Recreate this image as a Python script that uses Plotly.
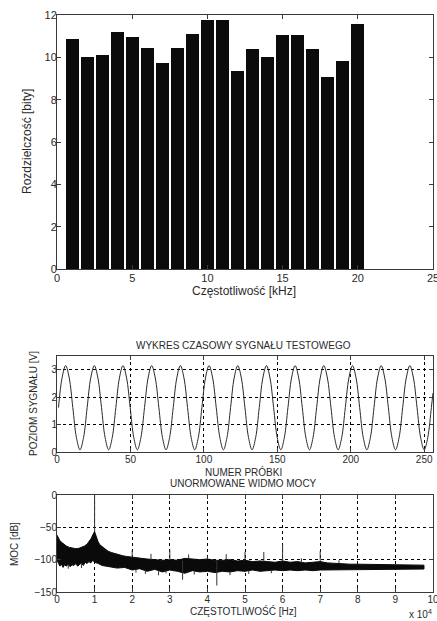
import plotly.graph_objects as go

# ---------------- Top chart: resolution per frequency band ----------------
freq_khz = [1, 2, 3, 4, 5, 6, 7, 8, 9, 10, 11, 12, 13, 14, 15, 16, 17, 18, 19, 20]
resolution_bits = [10.87, 10.03, 10.10, 11.22, 10.95, 10.45, 9.75, 10.45, 11.08, 11.78,
                   11.78, 9.36, 10.38, 10.03, 11.05, 11.05, 10.38, 9.05, 9.82, 11.57]
top_xticks = [0, 5, 10, 15, 20, 25]
top_yticks = [0, 2, 4, 6, 8, 10, 12]

# ---------------- Middle chart: test signal (sample index vs volts) ----------------
sample_idx = [1.00, 3.44, 5.88, 8.32, 10.77, 13.21, 15.65, 18.09,
              20.53, 22.97, 25.41, 27.85, 30.30, 32.74, 35.18, 37.62,
              40.06, 42.50, 44.94, 47.38, 49.83, 52.27, 54.71, 57.15,
              59.59, 62.03, 64.47, 66.91, 69.36, 71.80, 74.24, 76.68,
              79.12, 81.56, 84.00, 86.44, 88.89, 91.33, 93.77, 96.21,
              98.65, 101.09, 103.53, 105.97, 108.42, 110.86, 113.30, 115.74,
              118.18, 120.62, 123.06, 125.50, 127.95, 130.39, 132.83, 135.27,
              137.71, 140.15, 142.59, 145.03, 147.48, 149.92, 152.36, 154.80,
              157.24, 159.68, 162.12, 164.56, 167.01, 169.45, 171.89, 174.33,
              176.77, 179.21, 181.65, 184.09, 186.54, 188.98, 191.42, 193.86,
              196.30, 198.74, 201.18, 203.62, 206.07, 208.51, 210.95, 213.39,
              215.83, 218.27, 220.71, 223.15, 225.60, 228.04, 230.48, 232.92,
              235.36, 237.80, 240.24, 242.68, 245.13, 247.57, 250.01, 252.45,
              254.89, 256.00]
signal_v = [1.62, 2.70, 3.15, 2.70, 1.62, 0.53, 0.08, 0.53,
            1.62, 2.70, 3.15, 2.70, 1.62, 0.53, 0.08, 0.53,
            1.62, 2.70, 3.15, 2.70, 1.62, 0.53, 0.08, 0.53,
            1.62, 2.70, 3.15, 2.70, 1.62, 0.53, 0.08, 0.53,
            1.62, 2.70, 3.15, 2.70, 1.62, 0.53, 0.08, 0.53,
            1.62, 2.70, 3.15, 2.70, 1.62, 0.53, 0.08, 0.53,
            1.62, 2.70, 3.15, 2.70, 1.62, 0.53, 0.08, 0.53,
            1.62, 2.70, 3.15, 2.70, 1.62, 0.53, 0.08, 0.53,
            1.62, 2.70, 3.15, 2.70, 1.62, 0.53, 0.08, 0.53,
            1.62, 2.70, 3.15, 2.70, 1.62, 0.53, 0.08, 0.53,
            1.62, 2.70, 3.15, 2.70, 1.62, 0.53, 0.08, 0.53,
            1.62, 2.70, 3.15, 2.70, 1.62, 0.53, 0.08, 0.53,
            1.62, 2.70, 3.15, 2.70, 1.62, 0.53, 0.08, 0.53,
            1.62, 2.15]
mid_xticks = [0, 50, 100, 150, 200, 250]
mid_yticks = [0, 1, 2, 3]

# ---------------- Bottom chart: power spectrum (Hz vs dB) ----------------
spec_upper_hz = [0, 300, 700, 1200, 1800, 2500, 3300, 4200, 5000, 5800, 6600, 7300,
                 8000, 8600, 9100, 9500, 9800, 10000, 10200, 10500, 10900, 11400,
                 12000, 12800, 13600, 14500, 15500, 16500, 17500, 18500, 19500,
                 21000, 22500, 24000, 26000, 28000, 30000, 32000, 34000, 36000,
                 38000, 40000, 42000, 44000, 46000, 48000, 50000, 52000, 54000,
                 56000, 58000, 60000, 62000, 64000, 66000, 68000, 70000, 72000,
                 74000, 76000, 78000, 80000, 84000, 88000, 92000, 97600]
spec_upper_db = [-62, -66, -70, -73, -76, -79, -81, -82.5, -83, -82.5, -81, -79,
                 -76, -72, -67, -62, -58, -56.5, -60, -66, -72, -77,
                 -80, -84, -87, -89, -91, -92, -94, -95, -96,
                 -97, -98, -99, -100, -101, -100, -101, -98, -99,
                 -100, -99, -101, -101, -100, -102, -101, -103, -102,
                 -103, -104, -102, -104, -103, -105, -104, -103, -105,
                 -106, -106, -107, -107, -107.5, -108, -108, -108.5]
spec_lower_hz = [0, 400, 800, 1200, 1600, 2000, 2500, 3000, 3500, 4000, 4500, 5000,
                 5500, 6000, 6500, 7000, 7500, 8000, 8500, 9000, 9500, 10000,
                 11000, 12000, 14000, 16000, 18000, 20000, 22000, 24000, 26000,
                 28000, 30000, 32000, 34000, 36000, 38000, 40000, 42000, 44000,
                 46000, 48000, 50000, 52000, 54000, 56000, 58000, 60000, 62000,
                 64000, 66000, 68000, 70000, 72000, 76000, 80000, 88000, 97600]
spec_lower_db = [-100, -106, -110, -107, -112, -108, -110, -107, -111, -108, -109, -106,
                 -110, -107, -105, -109, -104, -106, -103, -105, -101, -104,
                 -106, -109, -111, -113, -112, -116, -114, -118, -115,
                 -119, -116, -118, -121, -117, -119, -118, -120, -118,
                 -119, -117, -118, -116, -118, -117, -116, -117, -116,
                 -117, -116, -117, -116, -116, -115.5, -115, -115, -114.5]
spike_hz = [10000, 20000, 25000, 30000, 35000, 40000, 45000, 50000, 55000, 60000,
            65000, 70000, 75000,
            3000, 6500, 21000, 23500, 27000, 29000, 33400, 36500, 42500, 46000,
            51000, 57000]
spike_top_db = [0, -85, -91, -84.5, -92, -95, -91.5, -88, -88, -76,
                -98, -87, -101,
                -108, -106, -114, -116, -118, -117, -101, -118, -101, -119,
                -117, -116]
spike_base_db = [-56.5, -97, -100, -100, -99, -99, -101, -101, -103, -102,
                 -105, -103, -106,
                 -114, -113, -120, -122, -124, -121, -131, -123, -140, -124,
                 -122, -121]
bot_xticks = [0, 10000, 20000, 30000, 40000, 50000, 60000, 70000, 80000, 90000, 100000]
bot_xticktext = ["0", "1", "2", "3", "4", "5", "6", "7", "8", "9", "10"]
bot_yticks = [-150, -100, -50, 0]

W, H = 437, 621
FONT = "Liberation Sans, Arial, sans-serif"
TXT = "#2a2a2a"
AX = "#3a3a3a"


def py(px):
    return 1 - px / H


def pxx(px):
    return px / W


fig = go.Figure()

fig.add_trace(go.Bar(x=freq_khz, y=resolution_bits, width=0.86,
                     marker=dict(color="#0b0b0b", line=dict(width=0)),
                     xaxis="x", yaxis="y", showlegend=False))

fig.add_trace(go.Scatter(x=sample_idx, y=signal_v, mode="lines",
                         line=dict(color="#2a2a2a", width=1, shape="spline", smoothing=1.0),
                         xaxis="x2", yaxis="y2", showlegend=False))

poly_x = spec_upper_hz + spec_lower_hz[::-1]
poly_y = spec_upper_db + spec_lower_db[::-1]
fig.add_trace(go.Scatter(x=poly_x, y=poly_y, mode="lines", fill="toself",
                         fillcolor="#0a0a0a", line=dict(color="#0a0a0a", width=1),
                         xaxis="x3", yaxis="y3", showlegend=False))

sx, sy = [], []
for f, t, b in zip(spike_hz, spike_top_db, spike_base_db):
    sx += [f, f, None]
    sy += [b, t, None]
fig.add_trace(go.Scatter(x=sx, y=sy, mode="lines", line=dict(color="#333333", width=1),
                         xaxis="x3", yaxis="y3", showlegend=False))

xdom = [pxx(57), pxx(433)]


def axstyle(size, grid, standoff):
    d = dict(showline=True, linecolor=AX, linewidth=1, mirror="ticks", ticks="inside",
             tickcolor=AX, ticklen=4, zeroline=False, automargin=False,
             ticklabelstandoff=standoff, ticklabeloverflow="allow",
             tickfont=dict(family=FONT, color=TXT, size=size))
    if grid:
        d.update(showgrid=True, gridcolor="#000000", gridwidth=0.8, griddash="3px,3px")
    else:
        d.update(showgrid=False)
    return d


fig.update_layout(
    width=W, height=H, autosize=False,
    margin=dict(l=0, r=0, t=0, b=0),
    paper_bgcolor="white", plot_bgcolor="white",
    font=dict(family=FONT, color=TXT),
    xaxis=dict(domain=xdom, anchor="y", range=[0, 25], tickvals=top_xticks,
               **axstyle(11, False, -1)),
    yaxis=dict(domain=[py(269), py(15)], anchor="x", range=[0, 12], tickvals=top_yticks,
               **axstyle(11, False, -3)),
    xaxis2=dict(domain=xdom, anchor="y2", range=[0, 256], tickvals=mid_xticks,
                **axstyle(10, True, -2)),
    yaxis2=dict(domain=[py(452), py(356)], anchor="x2", range=[0, 3.5], tickvals=mid_yticks,
                **axstyle(10, True, -3)),
    xaxis3=dict(domain=xdom, anchor="y3", range=[0, 100000], tickvals=bot_xticks,
                ticktext=bot_xticktext, **axstyle(10, True, -2)),
    yaxis3=dict(domain=[py(592), py(495)], anchor="x3", range=[-150, 0], tickvals=bot_yticks,
                **axstyle(10, True, -3)),
    bargap=0,
)

ann = [
    dict(text="Częstotliwość [kHz]", x=pxx(244), y=py(291), size=12),
    dict(text="Rozdzielczość [bity]", x=pxx(27), y=py(142), size=12, angle=-90),
    dict(text="WYKRES CZASOWY SYGNAŁU TESTOWEGO", x=pxx(243), y=py(345), size=10),
    dict(text="POZIOM SYGNAŁU [V]", x=pxx(33), y=py(404), size=10, angle=-90),
    dict(text="NUMER PRÓBKI", x=pxx(243), y=py(472), size=10),
    dict(text="UNORMOWANE WIDMO MOCY", x=pxx(243), y=py(483), size=10),
    dict(text="MOC [dB]", x=pxx(14), y=py(544), size=10, angle=-90),
    dict(text="CZĘSTOTLIWOŚĆ [Hz]", x=pxx(243), y=py(611), size=10),
]
for a in ann:
    fig.add_annotation(text=a["text"], x=a["x"], y=a["y"], xref="paper", yref="paper",
                       xanchor="center", yanchor="middle", showarrow=False,
                       textangle=a.get("angle", 0),
                       font=dict(family=FONT, size=a["size"], color=TXT))
fig.add_annotation(text="x 10<sup>4</sup>", x=pxx(434), y=py(614), xref="paper", yref="paper",
                   xanchor="right", yanchor="middle", showarrow=False,
                   font=dict(family=FONT, size=10, color=TXT))

fig.write_html(
    "out.html",
    config={"displayModeBar": False},
    post_script="document.body.style.margin='0';document.body.style.overflow='hidden';",
)
